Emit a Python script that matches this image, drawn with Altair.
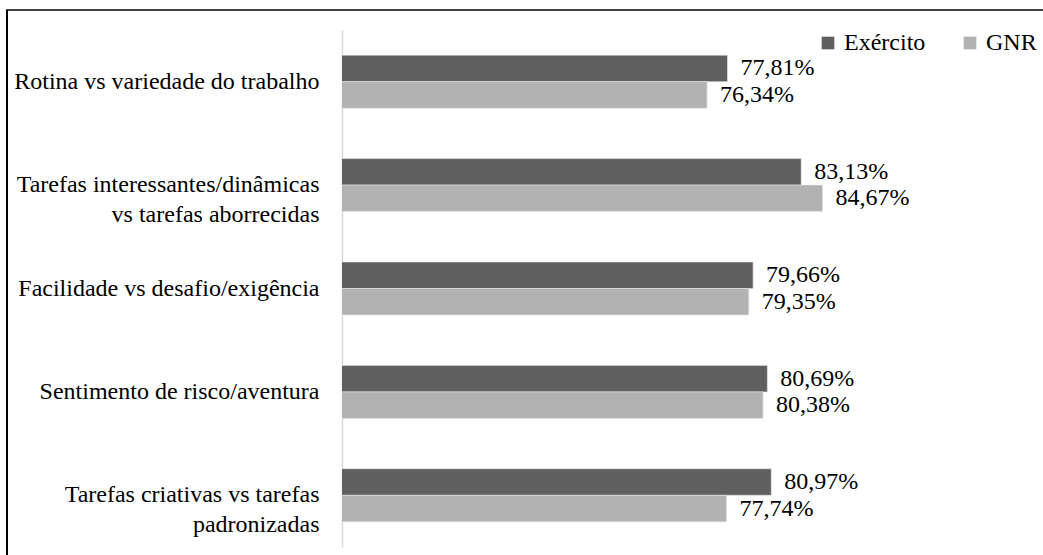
import altair as alt
import pandas as pd

NB = "\u00a0"
categories = [
    "Rotina vs variedade do trabalho",
    "Tarefas interessantes/dinâmicas|vs tarefas aborrecidas" + NB * 8,
    "Facilidade vs desafio/exigência",
    "Sentimento de risco/aventura",
    "Tarefas criativas vs tarefas|padronizadas" + NB * 11,
]
exercito = [77.81, 83.13, 79.66, 80.69, 80.97]
gnr = [76.34, 84.67, 79.35, 80.38, 77.74]
series = ["Exército", "GNR"]
colors = ["#5f5f5f", "#b2b2b2"]

rows = []
for c, e, g in zip(categories, exercito, gnr):
    rows.append({"cat": c, "serie": "Exército", "valor": e})
    rows.append({"cat": c, "serie": "GNR", "valor": g})
df = pd.DataFrame(rows)

FONT = "Liberation Serif"
FS = 24

y_enc = alt.Y(
    "cat:N",
    sort=categories,
    title=None,
    scale=alt.Scale(paddingInner=0.487, paddingOuter=0.2435),
    axis=alt.Axis(
        labelExpr="split(datum.label, '|')",
        labelFont=FONT,
        labelFontSize=FS,
        labelColor="#000000",
        labelLimit=400,
        labelPadding=23,
        labelLineHeight=30,
        ticks=False,
        domainColor="#d9d9d9",
        domainWidth=1.5,
        grid=False,
    ),
)
x_enc = alt.X(
    "valor:Q",
    title=None,
    scale=alt.Scale(domain=[50, 100], nice=False, zero=False),
    axis=None,
)

base = alt.Chart(df).encode(
    y=y_enc,
    yOffset=alt.YOffset("serie:N", sort=series),
)

bars = base.mark_bar(clip=True, stroke="#e6e6e6", strokeWidth=0.6).encode(
    x=x_enc,
    color=alt.Color(
        "serie:N",
        sort=series,
        scale=alt.Scale(domain=series, range=colors),
        legend=alt.Legend(
            title=None,
            orient="none",
            legendX=474,
            legendY=1,
            padding=0,
            direction="horizontal",
            symbolType="square",
            symbolSize=160,
            symbolStrokeWidth=0,
            labelFont=FONT,
            labelFontSize=FS,
            labelColor="#000000",
            columnPadding=32,
            labelOffset=4,
            labelLimit=200,
        ),
    ),
)

labels = base.transform_calculate(
    txt="replace(format(datum.valor, '.2f'), '.', ',') + '%'"
).mark_text(align="left", baseline="middle", dx=13, font=FONT, fontSize=FS, color="#000000").encode(
    x=x_enc,
    text="txt:N",
)

frame_left = alt.Chart(pd.DataFrame({"a": [0]})).mark_rule(color="#000000", strokeWidth=2).encode(
    x=alt.value(-335), y=alt.value(-20), y2=alt.value(530)
)
frame_top = alt.Chart(pd.DataFrame({"a": [0]})).mark_rule(color="#000000", strokeWidth=1.5).encode(
    x=alt.value(-336), x2=alt.value(710), y=alt.value(-20)
)

chart = alt.layer(bars, labels, frame_left, frame_top).properties(
    width=693,
    height=517,
    background="#ffffff",
    autosize=alt.AutoSizeParams(type="none"),
    padding={"left": 342, "top": 30, "right": 8, "bottom": 8},
).configure_view(stroke="transparent", strokeWidth=0)

chart.save("out.html", embed_options={"renderer": "svg", "actions": False})
